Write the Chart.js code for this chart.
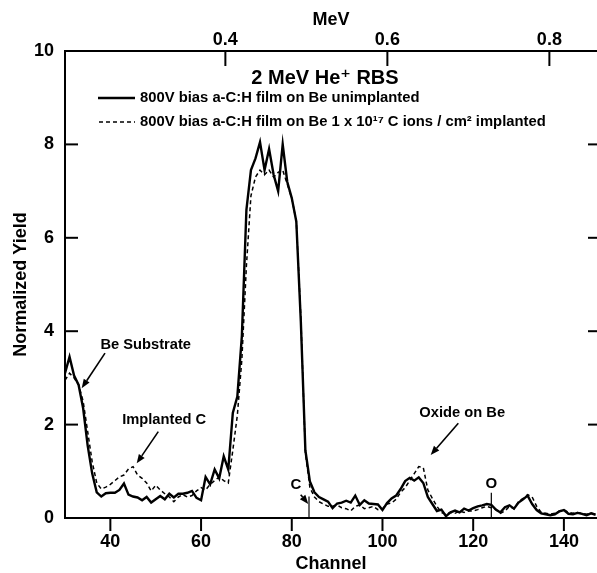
<!DOCTYPE html>
<html><head><meta charset="utf-8">
<script src="https://cdn.jsdelivr.net/npm/chart.js@4.4.1/dist/chart.umd.min.js"></script>
<style>html,body{margin:0;padding:0;background:#fff;}#wrap{width:597px;height:573px;position:relative;}canvas{display:block;}</style>
</head><body><div id="wrap"><canvas id="c" width="597" height="573" style="width:597px;height:573px"></canvas></div>
<script>
// ---- data ----
const channels = [30,31,32,33,34,35,36,37,38,39,40,41,42,43,44,45,46,47,48,49,50,51,52,53,54,55,56,57,58,59,
60,61,62,63,64,65,66,67,68,69,70,71,72,73,74,75,76,77,78,79,80,81,82,83,84,85,86,87,88,89,
90,91,92,93,94,95,96,97,98,99,100,101,102,103,104,105,106,107,108,109,110,111,112,113,114,115,116,117,118,119,
120,121,122,123,124,125,126,127,128,129,130,131,132,133,134,135,136,137,138,139,140,141,142,143,144,145,146,147];
const unimplanted = [3.10,3.45,3.05,2.85,2.35,1.55,0.95,0.55,0.46,0.53,0.54,0.54,0.60,0.74,0.50,0.46,0.44,0.38,0.45,0.33,
0.40,0.47,0.40,0.52,0.44,0.52,0.52,0.54,0.58,0.43,0.38,0.88,0.72,1.04,0.85,1.32,1.04,2.25,2.60,3.90,
6.60,7.45,7.70,8.05,7.45,7.90,7.35,7.00,8.00,7.20,6.85,6.35,4.20,1.45,0.78,0.55,0.45,0.40,0.35,0.21,
0.31,0.33,0.37,0.33,0.48,0.28,0.38,0.31,0.30,0.29,0.17,0.32,0.42,0.48,0.62,0.79,0.86,0.80,0.87,0.75,
0.45,0.30,0.15,0.18,0.04,0.12,0.16,0.12,0.20,0.16,0.21,0.25,0.27,0.30,0.28,0.18,0.12,0.23,0.27,0.20,
0.33,0.40,0.48,0.30,0.17,0.10,0.08,0.06,0.08,0.14,0.17,0.09,0.08,0.11,0.09,0.06,0.10,0.07];
const implanted = [2.95,3.10,3.00,2.85,2.50,1.85,1.20,0.75,0.62,0.66,0.72,0.80,0.88,0.92,1.05,1.10,0.92,0.85,0.75,0.58,
0.70,0.60,0.52,0.45,0.35,0.45,0.50,0.45,0.48,0.58,0.65,0.60,0.72,0.80,0.88,0.80,0.75,1.45,2.20,3.40,
5.40,6.90,7.30,7.45,7.35,7.45,7.30,7.40,7.45,7.15,6.85,6.35,4.30,1.40,0.65,0.45,0.35,0.30,0.25,0.25,
0.28,0.22,0.20,0.15,0.25,0.28,0.20,0.22,0.25,0.18,0.20,0.30,0.32,0.40,0.55,0.65,0.80,0.95,1.10,1.08,
0.60,0.42,0.25,0.12,0.08,0.12,0.10,0.15,0.12,0.15,0.15,0.18,0.22,0.25,0.22,0.18,0.10,0.15,0.25,0.20,
0.35,0.42,0.50,0.45,0.25,0.12,0.10,0.08,0.10,0.15,0.18,0.12,0.10,0.12,0.10,0.08,0.10,0.08];
const channelTicks = [40,60,80,100,120,140];
const yieldTicks = [0,2,4,6,8,10];
const mevTicks = [0.4,0.6,0.8];
const channelRange = [30,147.3];
// energy calibration of the top axis (channel at 0.4 MeV, channels per MeV)
const calChannel = 65.36, calMeV = 0.4, channelsPerMeV = 178.6;
const toMeV = ch => calMeV + (ch - calChannel) / channelsPerMeV;
// edge markers (element, channel)
const edgeMarkers = [['C', 83.8], ['O', 124]];

const FONT = '"Liberation Sans", Arial, "DejaVu Sans", sans-serif';
const f = (px) => 'bold ' + px + 'px ' + FONT;

function line(ctx, x1, y1, x2, y2) { ctx.beginPath(); ctx.moveTo(x1, y1); ctx.lineTo(x2, y2); ctx.stroke(); }
function arrow(ctx, x1, y1, x2, y2) {
  const ang = Math.atan2(y2 - y1, x2 - x1), L = 9, W = 3.5;
  const bx = x2 - L * Math.cos(ang), by = y2 - L * Math.sin(ang);
  ctx.lineWidth = 1.6; line(ctx, x1, y1, bx, by);
  ctx.beginPath(); ctx.moveTo(x2, y2);
  ctx.lineTo(bx + W * Math.sin(ang), by - W * Math.cos(ang));
  ctx.lineTo(bx - W * Math.sin(ang), by + W * Math.cos(ang));
  ctx.closePath(); ctx.fill();
}

const decor = {
  id: 'decor',
  afterDraw(chart) {
    const {ctx, chartArea: a, scales: {x, y, x2}} = chart;
    ctx.save();
    ctx.strokeStyle = '#000'; ctx.fillStyle = '#000'; ctx.lineWidth = 2;
    // tick marks
    yieldTicks.filter(v => v > 0 && v < 10).forEach(v => {
      const py = y.getPixelForValue(v);
      line(ctx, a.left, py, a.left + 13, py);
      line(ctx, a.right - 9, py, a.right, py);
    });
    channelTicks.forEach(v => { const px = x.getPixelForValue(v); line(ctx, px, a.bottom, px, a.bottom + 13); });
    mevTicks.forEach(v => { const px = x2.getPixelForValue(v); line(ctx, px, a.top, px, a.top + 15); });

    // title + legend
    ctx.textBaseline = 'middle';
    ctx.textAlign = 'center'; ctx.font = f(20);
    ctx.fillText('2 MeV He\u207A RBS', 325, 78);
    ctx.textAlign = 'left'; ctx.font = f(14.8);
    ctx.lineWidth = 2.5; line(ctx, 98, 98, 135, 98);
    ctx.fillText('800V bias a-C:H film on Be unimplanted', 140, 98);
    ctx.lineWidth = 1.5; ctx.setLineDash([4, 3]); line(ctx, 99, 122, 135, 122); ctx.setLineDash([]);
    ctx.fillText('800V bias a-C:H film on Be 1 x 10\u00B9\u2077 C ions / cm\u00B2 implanted', 140, 122);

    // annotations (data coordinates)
    const P = (cx, cy) => [x.getPixelForValue(cx), y.getPixelForValue(cy)];
    ctx.textAlign = 'center'; ctx.font = f(14.7);
    let p = P(47.79, 3.70); ctx.fillText('Be Substrate', p[0], p[1]);
    arrow(ctx, ...P(38.82, 3.53), ...P(33.68, 2.78));
    p = P(51.87, 2.10); ctx.fillText('Implanted C', p[0], p[1]);
    arrow(ctx, ...P(50.57, 1.85), ...P(45.81, 1.17));
    p = P(117.58, 2.24); ctx.fillText('Oxide on Be', p[0], p[1]);
    arrow(ctx, ...P(116.72, 2.03), ...P(110.63, 1.35));
    // element surface edges
    ctx.font = f(15);
    const [cLab, cCh] = edgeMarkers[0], [oLab, oCh] = edgeMarkers[1];
    p = P(80.93, 0.71); ctx.fillText(cLab, p[0], p[1]);
    ctx.lineWidth = 1.2; line(ctx, x.getPixelForValue(cCh), y.getPixelForValue(0.46), x.getPixelForValue(cCh), a.bottom);
    arrow(ctx, ...P(81.97, 0.50), ...P(83.64, 0.30));
    p = P(oCh, 0.73); ctx.fillText(oLab, p[0], p[1]);
    ctx.lineWidth = 1.2; line(ctx, x.getPixelForValue(oCh), y.getPixelForValue(0.54), x.getPixelForValue(oCh), a.bottom);
    ctx.restore();
  }
};

const axisCommon = {
  grid: {display: false, drawTicks: false, tickLength: 0},
  border: {display: true, color: '#000', width: 2}
};

new Chart(document.getElementById('c'), {
  type: 'line',
  data: {
    datasets: [
      {label: 'unimplanted', data: channels.map((c, i) => ({x: c, y: unimplanted[i]})),
       borderColor: '#000', borderWidth: 2.4, pointRadius: 0, tension: 0, fill: false},
      {label: 'implanted', data: channels.map((c, i) => ({x: c, y: implanted[i]})),
       borderColor: '#000', borderWidth: 1.5, borderDash: [4, 3], pointRadius: 0, tension: 0, fill: false}
    ]
  },
  options: {
    responsive: false, maintainAspectRatio: false, animation: false, devicePixelRatio: 1,
    layout: {padding: 0},
    plugins: {legend: {display: false}, tooltip: {enabled: false}, title: {display: false}},
    scales: {
      x: {type: 'linear', position: 'bottom', min: channelRange[0], max: channelRange[1], ...axisCommon,
        afterBuildTicks: s => { s.ticks = channelTicks.map(v => ({value: v})); },
        afterFit: s => { s.height = 55; },
        ticks: {color: '#000', font: {family: FONT, size: 18, weight: 'bold'}, padding: 13, maxRotation: 0, autoSkip: false},
        title: {display: true, text: 'Channel', color: '#000', font: {family: FONT, size: 18, weight: 'bold', lineHeight: 1}, padding: 0}
      },
      x2: {type: 'linear', position: 'top', min: toMeV(channelRange[0]), max: toMeV(channelRange[1]), ...axisCommon,
        afterBuildTicks: s => { s.ticks = mevTicks.map(v => ({value: v})); },
        afterFit: s => { s.height = 51; },
        ticks: {color: '#000', font: {family: FONT, size: 18, weight: 'bold'}, padding: 0, maxRotation: 0, autoSkip: false,
          callback: v => v.toFixed(1)},
        title: {display: true, text: 'MeV', color: '#000', font: {family: FONT, size: 18, weight: 'bold'}, padding: {top: 9, bottom: 0}}
      },
      y: {type: 'linear', position: 'left', min: 0, max: 10, ...axisCommon,
        afterBuildTicks: s => { s.ticks = yieldTicks.map(v => ({value: v})); },
        afterFit: s => { s.width = 65; },
        ticks: {color: '#000', font: {family: FONT, size: 18, weight: 'bold'}, padding: 11},
        title: {display: true, text: 'Normalized Yield', color: '#000', font: {family: FONT, size: 18, weight: 'bold'}, padding: {top: 10, bottom: 0}}
      }
    }
  },
  plugins: [decor]
});
</script></body></html>
